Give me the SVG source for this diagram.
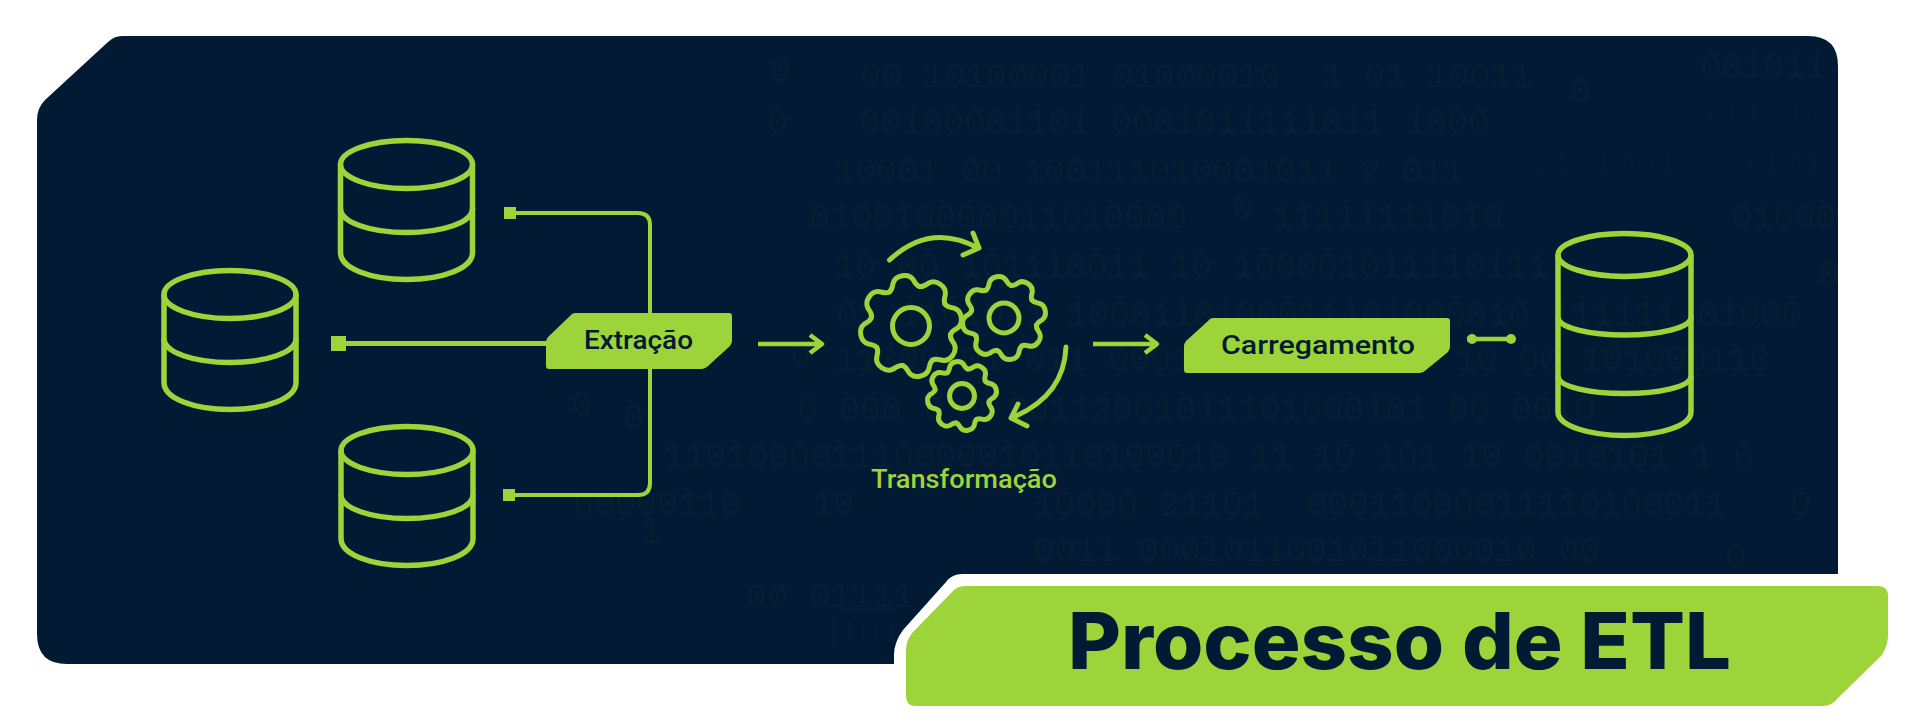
<svg xmlns="http://www.w3.org/2000/svg" xmlns:xlink="http://www.w3.org/1999/xlink" width="1906" height="721" viewBox="0 0 1906 721">
<style>
.cy{fill:none;stroke:#9dd43a;stroke-width:5.500}
.cn{fill:none;stroke:#9dd43a;stroke-width:4.500;stroke-linecap:butt;stroke-linejoin:round}
.sq{fill:#9dd43a}
.gr{fill:none;stroke:#9dd43a;stroke-width:5;vector-effect:non-scaling-stroke;stroke-linecap:round;stroke-linejoin:round}
.bd{fill:#9dd43a}
.lb{font-family:Roboto,"Liberation Sans",sans-serif;font-weight:500;font-size:26px;fill:#021a33}
.dg{font-family:"Liberation Mono",monospace;font-size:35px;fill:#071e34;white-space:pre}
</style>
<defs>
<clipPath id="bgclip"><path d="M122,36H1808Q1838,36 1838,66V574H962Q952,574 946,582L903,630Q894,642 894,655V664H67Q37,664 37,634V120Q37,108 45,100L108,42Q114,36 122,36Z"/></clipPath>
<g id="cyl">
<ellipse class="cy" cx="0" cy="26" rx="66" ry="24"/>
<path class="cy" d="M-66,26V114C-66,130 -36,141 0,141C36,141 66,130 66,114V26"/>
<path class="cy" d="M-66,70C-66,84 -36,94 0,94C36,94 66,84 66,70"/>
</g>
<path id="tooth" class="gr" d="M36.960,-15.310C39,-11.500 42,-11.500 45,-10C49,-8 50.500,-4 50.500,0C50.500,4 49,8 45,10C42,11.500 39,11.500 36.960,15.310"/>
<g id="gear">
<use xlink:href="#tooth" href="#tooth"/>
<use xlink:href="#tooth" href="#tooth" transform="rotate(45)"/>
<use xlink:href="#tooth" href="#tooth" transform="rotate(90)"/>
<use xlink:href="#tooth" href="#tooth" transform="rotate(135)"/>
<use xlink:href="#tooth" href="#tooth" transform="rotate(180)"/>
<use xlink:href="#tooth" href="#tooth" transform="rotate(225)"/>
<use xlink:href="#tooth" href="#tooth" transform="rotate(270)"/>
<use xlink:href="#tooth" href="#tooth" transform="rotate(315)"/>
</g>
</defs>
<rect width="1906" height="721" fill="#ffffff"/>
<path d="M122,36H1808Q1838,36 1838,66V574H962Q952,574 946,582L903,630Q894,642 894,655V664H67Q37,664 37,634V120Q37,108 45,100L108,42Q114,36 122,36Z" fill="#021a33"/>
<g id="binary-background" clip-path="url(#bgclip)">
<text class="dg" x="860" y="87">00 10100001 01000010  1 01 10011</text>
<text class="dg" x="770" y="82">0</text>
<text class="dg" x="1570" y="102">0</text>
<text class="dg" x="1700" y="77">001011</text>
<text class="dg" x="767" y="133">0</text>
<text class="dg" x="859" y="133">00100001101 0001011111011 1000</text>
<text class="dg" x="1700" y="125" opacity=".5">111 10</text>
<text class="dg" x="834" y="182">10001 00 100111010001011 2 011</text>
<text class="dg" x="1530" y="175" opacity=".5">11 1001  01101</text>
<text class="dg" x="809" y="228">010010000011010000</text>
<text class="dg" x="1232" y="218">0</text>
<text class="dg" x="1272" y="228">11111111010</text>
<text class="dg" x="1731" y="228">01000</text>
<text class="dg" x="834" y="277">10 00 101110011 10 100001011110111</text>
<text class="dg" x="1818" y="285">0</text>
<text class="dg" x="836" y="325">01 1101011 1000110100011101000010 111111 01000</text>
<text class="dg" x="790" y="365">0</text>
<text class="dg" x="835" y="370">11000 01 011 0001</text>
<text class="dg" x="1455" y="370">10 00 101000110</text>
<text class="dg" x="797" y="420">0 000 0 0 00112001011101000101 00 0010</text>
<text class="dg" x="571" y="415">0</text>
<text class="dg" x="623" y="428">0</text>
<text class="dg" x="663" y="467">11010000</text>
<text class="dg" x="830" y="467">1110000010110100010 11 10 101 10 0010101 1 0</text>
<text class="dg" x="573" y="515">00000110</text>
<text class="dg" x="812" y="515">10</text>
<text class="dg" x="1033" y="515">10000 21101  00011000011110100011</text>
<text class="dg" x="1790" y="515">0</text>
<text class="dg" x="640" y="543">1</text>
<text class="dg" x="1033" y="561">0011 0001011001011000010 00</text>
<text class="dg" x="1725" y="567">0</text>
<text class="dg" x="746" y="607">00 01111</text>
<text class="dg" x="838" y="643" opacity=".6">101</text>
</g>
<g id="connectors">
<path class="cn" style="stroke-width:4" d="M516,213H638Q650,213 650,225V483Q650,495 638,495H515"/>
<rect class="sq" x="504" y="207" width="12" height="12"/>
<rect class="sq" x="503" y="489" width="12" height="12"/>
<path class="cn" style="stroke-width:5" d="M346,343.500H550"/>
<rect class="sq" x="331" y="336" width="15" height="15"/>
<path class="cn" d="M758,344H822M810,335L822,344L810,353"/>
<path class="cn" d="M1093,344H1157M1145,335L1157,344L1145,353"/>
<path class="cn" d="M1467,339H1515"/>
<circle class="sq" cx="1472" cy="339" r="5"/>
<circle class="sq" cx="1511" cy="339" r="5"/>
</g>
<g id="source-top"><use xlink:href="#cyl" href="#cyl" transform="translate(406.500,138.500)"/></g>
<g id="source-mid"><use xlink:href="#cyl" href="#cyl" transform="translate(230,268.500)"/></g>
<g id="source-bottom"><use xlink:href="#cyl" href="#cyl" transform="translate(407,424.500)"/></g>
<g id="extracao">
<path class="bd" d="M575,313H729Q732,313 732,316V341Q732,343 730,346L708,366Q705,369 702,369H549Q546,369 546,366V342Q546,340 548,337L570,316Q572,313 575,313Z"/>
<text class="lb" x="584" y="349" textLength="109" lengthAdjust="spacingAndGlyphs">Extração</text>
</g>
<g id="transformacao">
<use xlink:href="#gear" href="#gear" transform="translate(911,326) rotate(-100) scale(1.01)"/>
<circle class="gr" cx="911" cy="326" r="18.500"/>
<use xlink:href="#gear" href="#gear" transform="translate(1004,318) rotate(-100) scale(.83)"/>
<circle class="gr" cx="1004" cy="318" r="15"/>
<use xlink:href="#gear" href="#gear" transform="translate(962,396) rotate(-100) scale(.69)"/>
<circle class="gr" cx="962" cy="396" r="12.500"/>
<path class="gr" d="M889.500,260Q930,222 978,248M973,233L979,248L963,255"/>
<path class="gr" d="M1066,347Q1064,397 1011,418M1018,404L1011,418L1027,426"/>
<text class="lb" style="fill:#9dd43a" x="871" y="488" textLength="186" lengthAdjust="spacingAndGlyphs">Transformação</text>
</g>
<g id="carregamento">
<path class="bd" d="M1213,318H1447Q1450,318 1450,321V347Q1450,349 1448,352L1426,370Q1423,373 1420,373H1187Q1184,373 1184,370V346Q1184,344 1186,341L1208,321Q1210,318 1213,318Z"/>
<text class="lb" x="1221" y="354" textLength="194" lengthAdjust="spacingAndGlyphs">Carregamento</text>
</g>
<g id="target">
<ellipse class="cy" cx="1624.500" cy="255" rx="66.500" ry="21.500"/>
<path class="cy" d="M1558,255V412C1558,426 1590,435.500 1624.500,435.500C1659,435.500 1691,426 1691,412V255"/>
<path class="cy" d="M1558,317C1558,328 1590,335 1624.500,335C1659,335 1691,328 1691,317"/>
<path class="cy" d="M1558,376C1558,387 1590,393.500 1624.500,393.500C1659,393.500 1691,387 1691,376"/>
</g>
<g id="title">
<path class="bd" d="M965,586H1878Q1888,586 1888,596V635Q1888,645 1882,655L1838,698Q1832,706 1822,706H916Q906,706 906,696V650Q906,640 913,632L952,592Q957,586 965,586Z"/>
<text x="1068" y="669" style="font-family:Inter,Roboto,sans-serif;font-weight:800;font-size:78px;fill:#021a33" textLength="663" lengthAdjust="spacingAndGlyphs">Processo de ETL</text>
</g>
</svg>
